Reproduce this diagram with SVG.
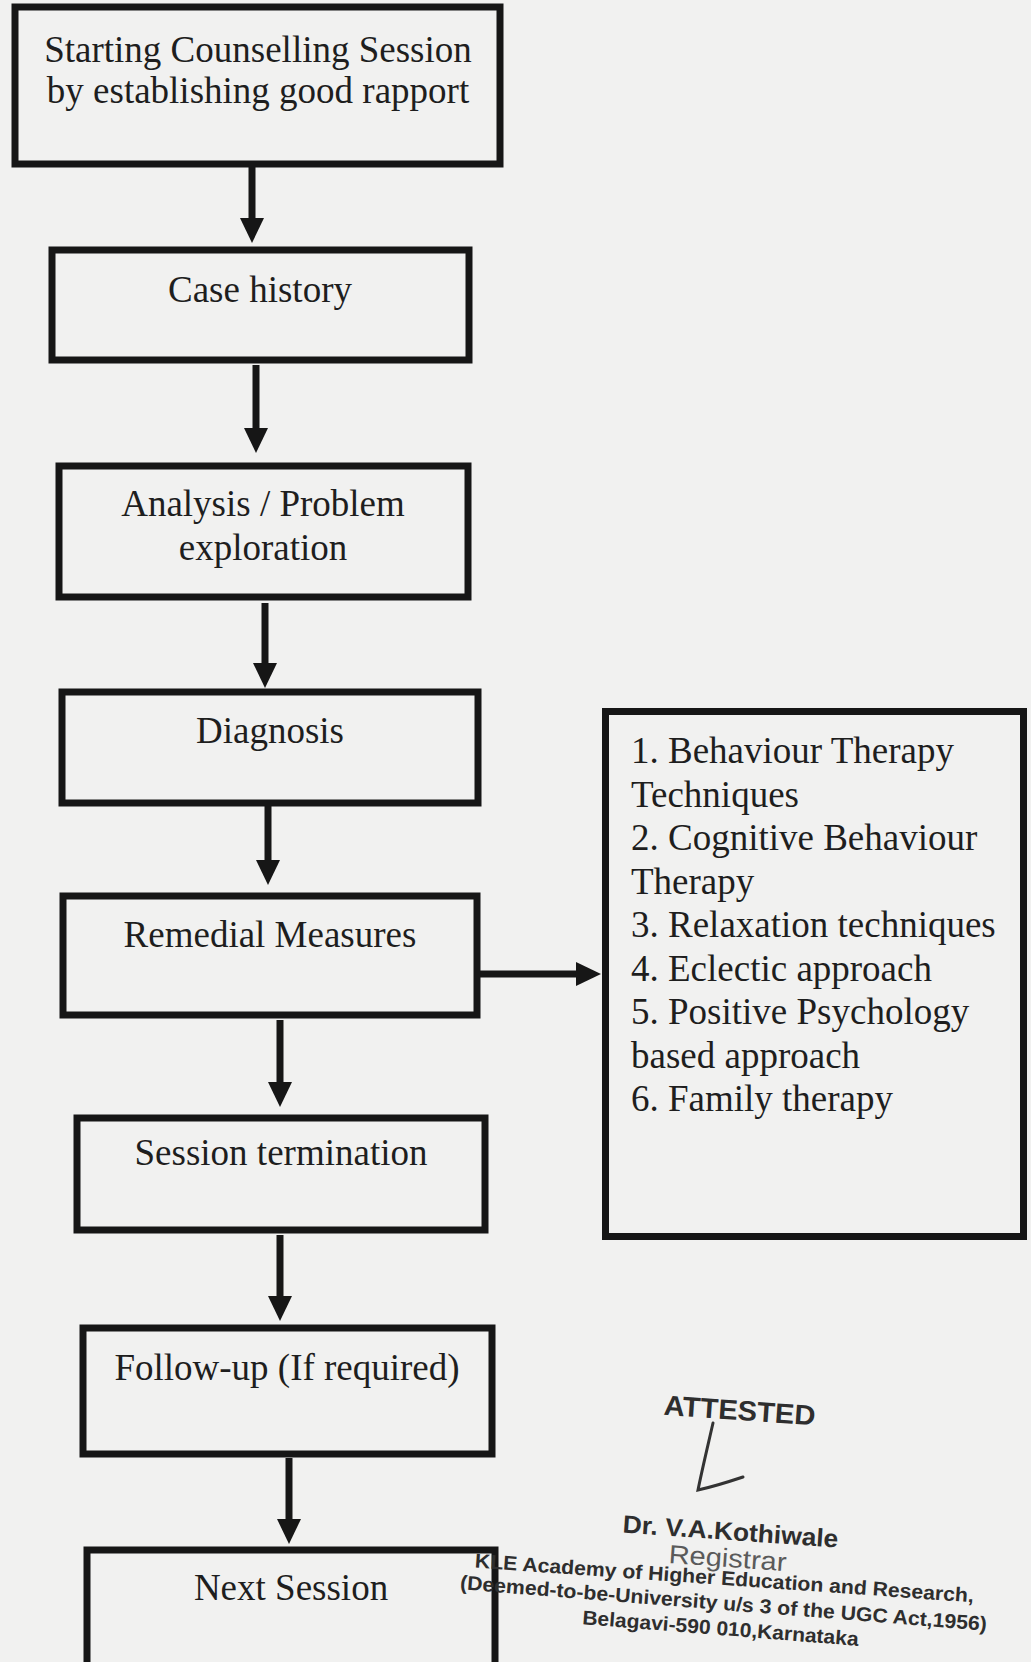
<svg xmlns="http://www.w3.org/2000/svg" width="1031" height="1662" viewBox="0 0 1031 1662">
<defs>
<style>
.box{fill:none;stroke:#161616;stroke-width:7}
.t{font-family:"Liberation Serif","Times New Roman",serif;font-size:37px;fill:#1e1e1e}
.c{text-anchor:middle}
.con{stroke:#161616;stroke-width:7;fill:none;marker-end:url(#ah)}
.st{font-family:"Liberation Sans",Arial,sans-serif;font-weight:bold;fill:#2e2e2e}
</style>
<marker id="ah" markerUnits="userSpaceOnUse" markerWidth="26" markerHeight="26" viewBox="0 0 26 26" refX="2" refY="13" orient="auto">
<path d="M0,1 L25,13 L0,25 z" fill="#161616"/>
</marker>
</defs>
<rect x="0" y="0" width="1031" height="1662" fill="#f1f1f0"/>

<g id="n1"><rect class="box" x="15" y="7" width="485" height="157"/>
<text class="t c" x="258" y="62">Starting Counselling Session</text>
<text class="t c" x="258" y="103">by establishing good rapport</text></g>

<g id="n2"><rect class="box" x="52" y="250" width="417" height="110"/>
<text class="t c" x="260" y="302">Case history</text></g>

<g id="n3"><rect class="box" x="59" y="466" width="409" height="131"/>
<text class="t c" x="263" y="516">Analysis / Problem</text>
<text class="t c" x="263" y="560">exploration</text></g>

<g id="n4"><rect class="box" x="62" y="692" width="416" height="111"/>
<text class="t c" x="270" y="743">Diagnosis</text></g>

<g id="n5"><rect class="box" x="63" y="896" width="414" height="119"/>
<text class="t c" x="270" y="947">Remedial Measures</text></g>

<g id="n6"><rect class="box" x="77" y="1118" width="408" height="112"/>
<text class="t c" x="281" y="1165">Session termination</text></g>

<g id="n7"><rect class="box" x="83" y="1328" width="409" height="126"/>
<text class="t c" x="287" y="1380">Follow-up (If required)</text></g>

<g id="n8"><rect class="box" x="87" y="1550" width="408" height="140"/>
<text class="t c" x="291" y="1600">Next Session</text></g>

<g id="n9"><rect class="box" x="605.5" y="711.5" width="418" height="525"/>
<text class="t" x="631" y="763">1. Behaviour Therapy</text>
<text class="t" x="631" y="806.5">Techniques</text>
<text class="t" x="631" y="850">2. Cognitive Behaviour</text>
<text class="t" x="631" y="893.5">Therapy</text>
<text class="t" x="631" y="937">3. Relaxation techniques</text>
<text class="t" x="631" y="980.5">4. Eclectic approach</text>
<text class="t" x="631" y="1024">5. Positive Psychology</text>
<text class="t" x="631" y="1067.5">based approach</text>
<text class="t" x="631" y="1111">6. Family therapy</text></g>

<g id="connectors">
<line class="con" x1="252" y1="167" x2="252" y2="220"/>
<line class="con" x1="256" y1="365" x2="256" y2="430"/>
<line class="con" x1="265" y1="603" x2="265" y2="665"/>
<line class="con" x1="268" y1="806" x2="268" y2="862"/>
<line class="con" x1="480" y1="974" x2="578" y2="974"/>
<line class="con" x1="280" y1="1020" x2="280" y2="1084"/>
<line class="con" x1="280" y1="1235" x2="280" y2="1298"/>
<line class="con" x1="289" y1="1458" x2="289" y2="1521"/>
</g>

<g id="stamp">
<text class="st" x="739" y="1420" font-size="28" text-anchor="middle" transform="rotate(4 739 1420)" textLength="152" lengthAdjust="spacingAndGlyphs">ATTESTED</text>
<path d="M713,1423 C708,1445 702,1470 698,1490 C712,1487 728,1482 743,1477" fill="none" stroke="#333" stroke-width="3" stroke-linecap="round"/>
<text class="st" x="730" y="1540" font-size="25" text-anchor="middle" transform="rotate(4 730 1540)" textLength="216" lengthAdjust="spacingAndGlyphs">Dr. V.A.Kothiwale</text>
<text x="727" y="1567" font-size="26" text-anchor="middle" transform="rotate(4 727 1567)" font-family="Liberation Sans, Arial, sans-serif" fill="#5a5a5a" textLength="118" lengthAdjust="spacingAndGlyphs">Registrar</text>
<text class="st" x="724" y="1585" font-size="20" text-anchor="middle" transform="rotate(4 724 1585)" textLength="500" lengthAdjust="spacingAndGlyphs">KLE Academy of Higher Education and Research,</text>
<text class="st" x="723" y="1610" font-size="20" text-anchor="middle" transform="rotate(4.5 723 1610)" textLength="528" lengthAdjust="spacingAndGlyphs">(Deemed-to-be-University u/s 3 of the UGC Act,1956)</text>
<text class="st" x="720" y="1635" font-size="20" text-anchor="middle" transform="rotate(4.5 720 1635)" textLength="277" lengthAdjust="spacingAndGlyphs">Belagavi-590 010,Karnataka</text>
</g>
</svg>
